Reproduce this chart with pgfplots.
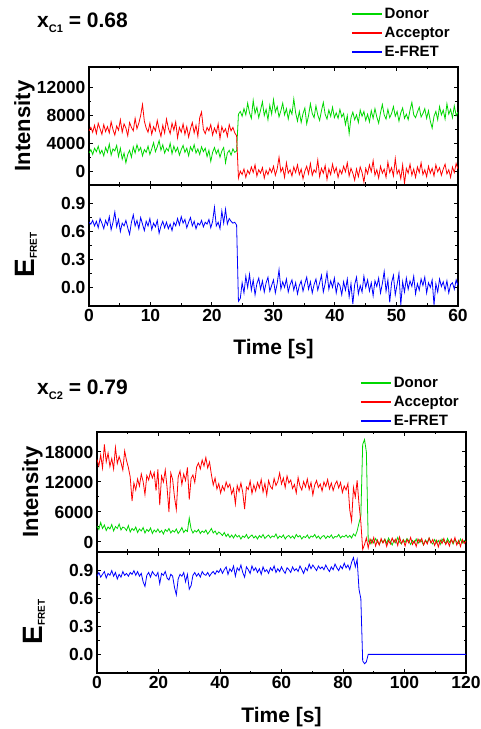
\documentclass[border=0pt]{standalone}
\usepackage{fontspec}
\setmainfont{Liberation Sans}
\usepackage{pgfplots}
\usepackage{pgfplotstable}
\pgfplotsset{compat=1.18}
\definecolor{dgreen}{RGB}{0,215,0}
\definecolor{ared}{RGB}{255,0,0}
\definecolor{eblue}{RGB}{0,0,255}

\pgfplotstableread{
t D A E
0.0 2600 5800 0.70
0.3 3100 6300 0.68
0.6 2400 5600 0.72
0.9 3300 6600 0.66
1.2 2800 5400 0.71
1.5 3600 6900 0.64
1.8 2500 6100 0.74
2.1 3000 5300 0.69
2.4 2200 6700 0.63
2.7 3400 5700 0.72
3.0 2700 6400 0.67
3.3 3900 5500 0.76
3.6 2300 7100 0.62
3.9 3200 6000 0.70
4.2 2900 5200 0.81
4.5 3700 6500 0.65
4.8 2100 5900 0.73
5.1 3300 7400 0.60
5.4 1700 5600 0.69
5.7 2600 6800 0.66
6.0 1200 6200 0.72
6.3 2400 5100 0.64
6.6 3000 7000 0.57
6.9 2000 6300 0.70
7.2 3500 5800 0.78
7.5 2600 7600 0.66
7.8 3800 6100 0.72
8.1 2900 6900 0.63
8.4 3400 8000 0.75
8.7 2200 9600 0.68
9.0 3100 7200 0.61
9.3 2700 6200 0.71
9.6 3600 5600 0.66
9.9 2400 6900 0.74
10.2 3200 5300 0.62
10.5 4100 6400 0.69
10.8 2800 5800 0.65
11.1 3500 7300 0.72
11.4 4400 6000 0.58
11.7 3000 5000 0.66
12.0 3800 6600 0.71
12.3 2600 5500 0.64
12.6 3300 7500 0.70
12.9 2900 6200 0.63
13.2 4000 5400 0.68
13.5 2500 6900 0.61
13.8 3600 5900 0.70
14.1 2800 7100 0.66
14.4 3400 4800 0.74
14.7 2300 6300 0.67
15.0 3100 5600 0.76
15.3 3700 6800 0.69
15.6 2700 5300 0.73
15.9 3300 6400 0.64
16.2 2200 4900 0.70
16.5 3500 6100 0.75
16.8 2900 7000 0.66
17.1 3800 5500 0.71
17.4 2600 6600 0.63
17.7 3200 5000 0.69
18.0 2400 7700 0.67
18.3 3500 8500 0.72
18.6 2800 6000 0.65
18.9 3300 5400 0.70
19.2 2100 6300 0.68
19.5 3000 5800 0.73
19.8 1400 6700 0.64
20.1 2700 5200 0.71
20.4 3400 6200 0.86
20.7 2500 5500 0.66
21.0 3100 6800 0.70
21.3 2000 4700 0.63
21.6 2900 6400 0.82
21.9 3400 5600 0.69
22.2 1200 6100 0.84
22.5 2600 5000 0.68
22.8 3000 6700 0.74
23.1 2300 5800 0.71
23.4 3200 6300 0.69
23.7 2700 5500 0.70
24.0 2900 5100 0.67
24.3 8200 -1000 -0.15
24.6 8600 0 -0.12
24.9 7900 -500 0.05
25.2 9000 300 -0.06
25.5 8100 -900 0.12
25.8 9800 100 0.00
26.1 8400 -400 0.14
26.4 7600 600 -0.03
26.7 10200 -200 0.08
27.0 8300 900 -0.08
27.3 9200 -700 0.04
27.6 7700 200 0.10
27.9 8800 -300 -0.02
28.2 10000 500 0.07
28.5 8000 -1000 -0.05
28.8 8900 100 0.05
29.1 7400 -500 0.11
29.4 9500 400 -0.04
29.7 8200 -200 0.02
30.0 10300 700 0.08
30.3 8500 -600 -0.06
30.6 9300 300 0.04
30.9 7800 2000 0.19
31.2 8700 -100 -0.02
31.5 9800 500 0.06
31.8 8100 -900 0.00
32.1 9000 1200 0.09
32.4 7500 -300 -0.05
32.7 8900 200 0.03
33.0 8200 -700 0.08
33.3 10400 600 -0.03
33.6 8400 -200 0.05
33.9 7200 900 -0.07
34.2 8600 -500 0.02
34.5 7000 300 0.07
34.8 8300 -1100 -0.04
35.1 9100 0 0.04
35.4 6800 700 0.11
35.7 8000 -400 -0.02
36.0 9700 1100 0.06
36.3 8300 -600 -0.06
36.6 7700 200 0.03
36.9 9400 -200 0.09
37.2 8100 1600 -0.03
37.5 7300 -800 0.05
37.8 8700 400 0.13
38.1 9900 -300 -0.05
38.4 8200 800 0.04
38.7 7500 -1200 0.16
39.0 8800 300 -0.02
39.3 7900 -500 0.07
39.6 9200 1000 0.00
39.9 7700 -200 0.10
40.2 8400 500 -0.06
40.5 7600 -900 0.05
40.8 8900 200 0.02
41.1 7800 -400 -0.08
41.4 8300 700 0.06
41.7 6700 -100 -0.03
42.0 8000 1200 0.09
42.3 5400 -700 -0.10
42.6 7700 400 0.04
42.9 8500 -300 -0.18
43.2 7400 -1300 0.03
43.5 8100 300 0.11
43.8 7000 -800 -0.07
44.1 8800 600 0.02
44.4 7900 -200 -0.05
44.7 8600 -1600 0.12
45.0 7300 400 0.00
45.3 8200 -400 0.08
45.6 7100 900 -0.04
45.9 8700 -100 0.05
46.2 7600 1500 -0.09
46.5 9000 -600 0.07
46.8 7800 200 0.01
47.1 6900 -1000 0.10
47.4 8400 700 -0.06
47.7 9600 -300 0.04
48.0 8100 300 0.17
48.3 7500 -900 -0.04
48.6 8900 1300 0.08
48.9 7700 -200 -0.16
49.2 8300 500 0.05
49.5 9300 -700 0.13
49.8 7900 1800 -0.08
50.1 8600 -400 0.03
50.4 7200 200 0.15
50.7 8400 -1100 -0.19
51.0 9100 900 0.06
51.3 7600 -1800 -0.05
51.6 8200 400 0.10
51.9 7400 -300 -0.02
52.2 8800 1000 0.07
52.5 9900 -600 0.01
52.8 8100 300 0.12
53.1 7700 -900 -0.07
53.4 8500 600 0.04
53.7 9200 -200 -0.03
54.0 7800 1200 0.09
54.3 8300 -500 0.02
54.6 9000 200 0.11
54.9 7600 -800 -0.06
55.2 8700 700 0.05
55.5 7200 -300 0.00
55.8 6200 400 0.08
56.1 7900 -700 -0.19
56.4 8600 900 0.04
56.7 7400 -100 -0.05
57.0 9300 500 0.09
57.3 8100 -600 0.01
57.6 8800 300 0.06
57.9 7500 1000 -0.03
58.2 9700 -400 0.07
58.5 8200 200 -0.06
58.8 8900 -900 0.03
59.1 7700 600 0.05
59.4 9400 -200 -0.02
59.7 8000 1100 0.08
60.0 8500 300 0.02
}\topdata

\pgfplotstableread{
t D A E
0.0 3200 16500 0.84
0.6 2500 15200 0.88
1.2 3900 17400 0.83
1.8 2700 14800 0.86
2.4 3400 19500 0.89
3.0 2300 16000 0.82
3.6 3000 17800 0.87
4.2 2600 15100 0.85
4.8 3500 16700 0.90
5.4 2200 14600 0.84
6.0 3100 18900 0.88
6.6 2700 15700 0.81
7.2 3600 17100 0.86
7.8 2400 15900 0.83
8.4 3000 14400 0.89
9.0 2800 18200 0.85
9.6 2300 16300 0.87
10.2 3300 14900 0.84
10.8 2000 13000 0.88
11.4 2700 8200 0.86
12.0 2300 11800 0.90
12.6 3000 10400 0.85
13.2 1900 12600 0.89
13.8 2600 11200 0.84
14.4 2200 13600 0.87
15.0 2900 12100 0.78
15.6 1800 9500 0.73
16.2 2500 13300 0.85
16.8 2100 12400 0.88
17.4 2800 14100 0.83
18.0 1700 12800 0.89
18.6 2400 13900 0.86
19.2 2000 10300 0.84
19.8 2600 14500 0.88
20.4 1900 7400 0.76
21.0 2300 13200 0.87
21.6 1600 12000 0.85
22.2 2500 14400 0.89
22.8 2100 10800 0.82
23.4 2700 6000 0.80
24.0 1800 13800 0.86
24.6 2300 12500 0.84
25.2 2000 9000 0.72
25.8 2600 6500 0.64
26.4 1700 13000 0.81
27.0 2200 14200 0.86
27.6 2900 11500 0.84
28.2 1900 13600 0.88
28.8 2400 12300 0.78
29.4 2100 14900 0.86
30.0 4800 8500 0.70
30.6 2600 12700 0.74
31.2 1800 13400 0.85
31.8 2300 11900 0.88
32.4 2000 15000 0.84
33.0 2500 15800 0.87
33.6 1700 14600 0.83
34.2 2200 16400 0.89
34.8 1900 15200 0.86
35.4 2400 16900 0.85
36.0 1600 14800 0.88
36.6 2100 16000 0.84
37.2 2700 13500 0.87
37.8 1800 11400 0.89
38.4 2200 12800 0.86
39.0 1500 10600 0.90
39.6 2000 11700 0.88
40.2 1700 9800 0.92
40.8 1300 11200 0.87
41.4 1900 10300 0.91
42.0 1100 12000 0.94
42.6 1600 10900 0.86
43.2 900 11600 0.92
43.8 1400 9600 0.89
44.4 800 10700 0.95
45.0 1500 7600 0.84
45.6 1000 11300 0.93
46.2 1300 10100 0.90
46.8 600 11800 0.96
47.4 1200 9900 0.88
48.0 900 6600 0.83
48.6 1500 11000 0.94
49.2 700 10500 0.91
49.8 1100 12200 0.87
50.4 1400 9700 0.95
51.0 800 11400 0.90
51.6 1200 10200 0.93
52.2 600 11900 0.88
52.8 1300 10800 0.92
53.4 900 12500 0.86
54.0 1500 10000 0.94
54.6 700 11700 0.89
55.2 1100 9400 0.91
55.8 1400 12300 0.87
56.4 800 11100 0.93
57.0 1200 10600 0.90
57.6 1000 12700 0.95
58.2 1600 11300 0.88
58.8 700 12100 0.92
59.4 1200 13800 0.89
60.0 900 11600 0.94
60.6 1400 12800 0.90
61.2 600 10900 0.87
61.8 1100 13200 0.93
62.4 1300 11800 0.91
63.0 800 12400 0.88
63.6 1200 10700 0.94
64.2 700 11500 0.90
64.8 1500 9800 0.92
65.4 1000 12900 0.89
66.0 1300 11200 0.95
66.6 600 10400 0.91
67.2 1100 12100 0.87
67.8 900 11000 0.93
68.4 1400 12600 0.90
69.0 700 10500 0.97
69.6 1200 11900 0.92
70.2 1000 9400 0.96
70.8 1500 11400 0.93
71.4 800 12300 0.90
72.0 1200 10900 0.95
72.6 600 11600 0.92
73.2 1100 10200 0.94
73.8 1300 12000 0.91
74.4 700 11100 0.96
75.0 1200 12500 0.92
75.6 900 10600 0.89
76.2 1400 11800 0.94
76.8 700 10300 0.91
77.4 1100 11500 0.97
78.0 1000 12200 0.93
78.6 1500 10800 0.90
79.2 800 11900 0.95
79.8 1200 9900 0.92
80.4 1000 11200 0.98
81.0 1400 10400 0.93
81.6 900 11700 0.96
82.2 1300 6400 0.91
82.8 800 4200 0.99
83.4 1600 10900 1.04
84.0 1200 9000 0.94
84.6 2200 12300 1.02
85.2 3800 7600 0.70
85.8 5200 4000 0.60
86.4 19500 -1500 -0.07
87.0 20500 -500 -0.10
87.6 18000 800 -0.08
88.2 300 -1200 0
88.8 -400 600 0
89.4 500 -300 0
90.0 -200 900 0
90.6 700 -800 0
91.2 0 400 0
91.8 -500 -600 0
92.4 400 700 0
93.0 -100 -200 0
93.6 600 500 0
94.2 -300 -900 0
94.8 800 300 0
95.4 100 -400 0
96.0 -600 800 0
96.6 400 -100 0
97.2 -200 600 0
97.8 900 -700 0
98.4 0 1000 0
99.0 -400 -300 0
99.6 500 400 0
100.2 -100 -800 0
100.8 700 500 0
101.4 200 -200 0
102.0 -500 900 0
102.6 300 -500 0
103.2 -200 200 0
103.8 600 -900 0
104.4 -300 600 0
105.0 500 -100 0
105.6 100 700 0
106.2 -600 -600 0
106.8 400 300 0
107.4 -100 -400 0
108.0 800 800 0
108.6 0 -200 0
109.2 -400 500 0
109.8 500 -700 0
110.4 -200 300 0
111.0 300 -1000 0
111.6 -500 400 0
112.2 600 -300 0
112.8 100 700 0
113.4 -300 -500 0
114.0 700 200 0
114.6 -100 -800 0
115.2 400 600 0
115.8 -400 -200 0
116.4 500 900 0
117.0 0 -600 0
117.6 -300 300 0
118.2 600 -900 0
118.8 -200 500 0
119.4 300 -300 0
120.0 100 200 0
}\botdata

\pgfplotsset{
  trace/.style={
    scale only axis, width=369pt,
    tick align=inside,
    axis line style={line width=1.3pt},
    every tick/.style={black, line width=1pt},
    major tick length=4pt, minor tick length=2.5pt,
    tick label style={font=\bfseries\fontsize{17.5}{17.5}\selectfont},
    scaled ticks=false,
    /pgf/number format/assume math mode=true,
    /pgf/number format/1000 sep={},
    ylabel style={at={(axis description cs:-0.175,0.5)}, anchor=center},
    xlabel style={font=\bfseries\fontsize{21}{21}\selectfont, at={(axis description cs:0.5,0)}, anchor=base, yshift=-49pt},
    minor x tick num=1, minor y tick num=1,
  },
  intens/.style={trace, xticklabels={},
    ylabel={\bfseries\fontsize{22}{22}\selectfont Intensity},
    legend image post style={line width=2pt, xscale=1.75},
    legend style={draw=none, fill=none, anchor=north west, legend cell align=left,
      font=\bfseries\fontsize{15}{15}\selectfont, row sep=3.2pt, inner sep=0pt},
  },
  efret/.style={trace, ymin=-0.2, ymax=1.1, ytick={0,0.3,0.6,0.9},
    yticklabel style={/pgf/number format/.cd, fixed, fixed zerofill, precision=1},
    xlabel={Time [s]},
    ylabel={\bfseries\fontsize{28}{28}\selectfont E\raisebox{-2pt}{\fontsize{10}{10}\selectfont FRET}},
    ylabel style={at={(axis description cs:-0.17,0.42)}}},
}

\begin{document}
\begin{tikzpicture}
\useasboundingbox (0pt,0pt) rectangle (480pt,729pt);

% ---------- top group ----------
\node[anchor=base west, inner sep=0pt, font=\bfseries\fontsize{21}{21}\selectfont] at (37pt,701pt)
  {x\raisebox{-5pt}{\fontsize{11}{11}\selectfont C1} = 0.68};

\begin{axis}[intens, at={(89pt,544pt)}, anchor=south west, height=118pt,
  xmin=0, xmax=60, xtick={0,10,...,60},
  ymin=-2000, ymax=15000, ytick={0,4000,8000,12000},
  legend style={at={(0.709,1.518)}}]
\addplot[color=dgreen, line width=0.8pt] table[x=t, y=D] {\topdata};
\addlegendentry{Donor}
\addplot[color=ared, line width=0.8pt] table[x=t, y=A] {\topdata};
\addlegendentry{Acceptor}
\addlegendimage{color=eblue, line width=0.8pt}
\addlegendentry{E-FRET}
\end{axis}

\begin{axis}[efret, at={(89pt,423pt)}, anchor=south west, height=121pt,
  xmin=0, xmax=60, xtick={0,10,...,60}]
\addplot[color=eblue, line width=0.8pt] table[x=t, y=E] {\topdata};
\end{axis}

% ---------- bottom group ----------
\node[anchor=base west, inner sep=0pt, font=\bfseries\fontsize{21}{21}\selectfont] at (37pt,334pt)
  {x\raisebox{-5pt}{\fontsize{11}{11}\selectfont C2} = 0.79};

\begin{axis}[intens, at={(97pt,177pt)}, anchor=south west, height=120pt,
  xmin=0, xmax=120, xtick={0,20,...,120},
  ymin=-2000, ymax=22000, ytick={0,6000,12000,18000},
  legend style={at={(0.712,1.475)}}]
\addplot[color=dgreen, line width=0.8pt] table[x=t, y=D] {\botdata};
\addlegendentry{Donor}
\addplot[color=ared, line width=0.8pt] table[x=t, y=A] {\botdata};
\addlegendentry{Acceptor}
\addlegendimage{color=eblue, line width=0.8pt}
\addlegendentry{E-FRET}
\end{axis}

\begin{axis}[efret, at={(97pt,56pt)}, anchor=south west, height=121pt,
  xmin=0, xmax=120, xtick={0,20,...,120}]
\addplot[color=eblue, line width=0.8pt] table[x=t, y=E] {\botdata};
\end{axis}
\end{tikzpicture}
\end{document}
